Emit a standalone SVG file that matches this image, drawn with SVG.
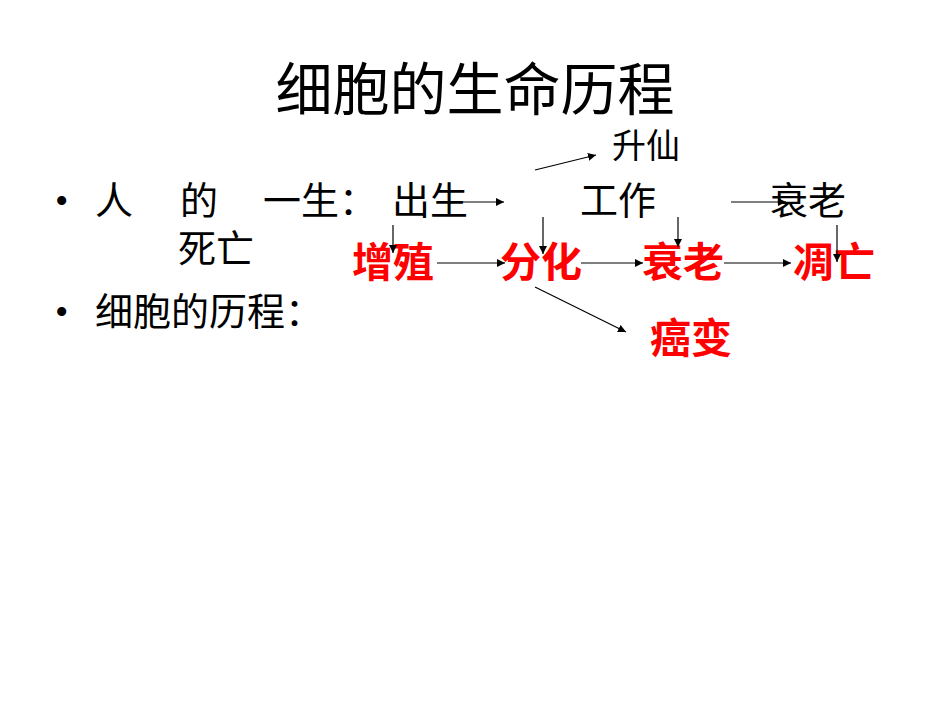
<svg xmlns="http://www.w3.org/2000/svg" width="950" height="713" viewBox="0 0 950 713">
<style>
text{font-family:"Liberation Serif","Noto Sans CJK SC",serif;fill:#000}
.b{font-size:38px}
.r{font-size:41px;fill:#ff0000;font-weight:bold;font-family:"Noto Sans CJK SC",sans-serif}
line{stroke:#000;stroke-width:1.2;marker-end:url(#a)}
</style>
<defs><marker id="a" viewBox="0 0 10 10" refX="10" refY="5" markerWidth="8" markerHeight="8" markerUnits="userSpaceOnUse" orient="auto"><path d="M0,0L10,5L0,10z" fill="#000"/></marker></defs>
<rect width="950" height="713" fill="#fff"/>
<g id="title"><text x="475" y="110" font-size="57" text-anchor="middle">细胞的生命历程</text></g>
<g id="bullets">
<text class="b" x="55" y="214">•</text>
<text class="b" x="95" y="214">人</text>
<text class="b" x="180" y="214">的</text>
<text class="b" x="263" y="214">一生：</text>
<text class="b" x="392" y="214">出生</text>
<text class="b" x="580" y="214">工作</text>
<text class="b" x="770" y="214">衰老</text>
<text class="b" x="178" y="262">死亡</text>
<text class="b" x="55" y="325">•</text>
<text class="b" x="95" y="325">细胞的历程：</text>
</g>
<g id="n-shengxian"><text x="612" y="158" font-size="34">升仙</text></g>
<g id="n-zengzhi"><text class="r" x="352" y="277">增殖</text></g>
<g id="n-fenhua"><text class="r" x="500" y="277">分化</text></g>
<g id="n-shuailao"><text class="r" x="642" y="277">衰老</text></g>
<g id="n-diaowang"><text class="r" x="793" y="277">凋亡</text></g>
<g id="n-aibian"><text class="r" x="650" y="353">癌变</text></g>
<g id="connectors">
<line x1="457" y1="202" x2="504" y2="202"/>
<line x1="535" y1="170" x2="596" y2="155"/>
<line x1="731" y1="202" x2="786" y2="202"/>
<line x1="393" y1="225" x2="393" y2="253"/>
<line x1="543" y1="217" x2="543" y2="254"/>
<line x1="678" y1="217" x2="678" y2="247"/>
<line x1="837" y1="225" x2="837" y2="262"/>
<line x1="437" y1="263" x2="505" y2="263"/>
<line x1="581" y1="263" x2="643" y2="263"/>
<line x1="724" y1="263" x2="791" y2="263"/>
<line x1="535" y1="287" x2="626" y2="332"/>
</g>
</svg>
